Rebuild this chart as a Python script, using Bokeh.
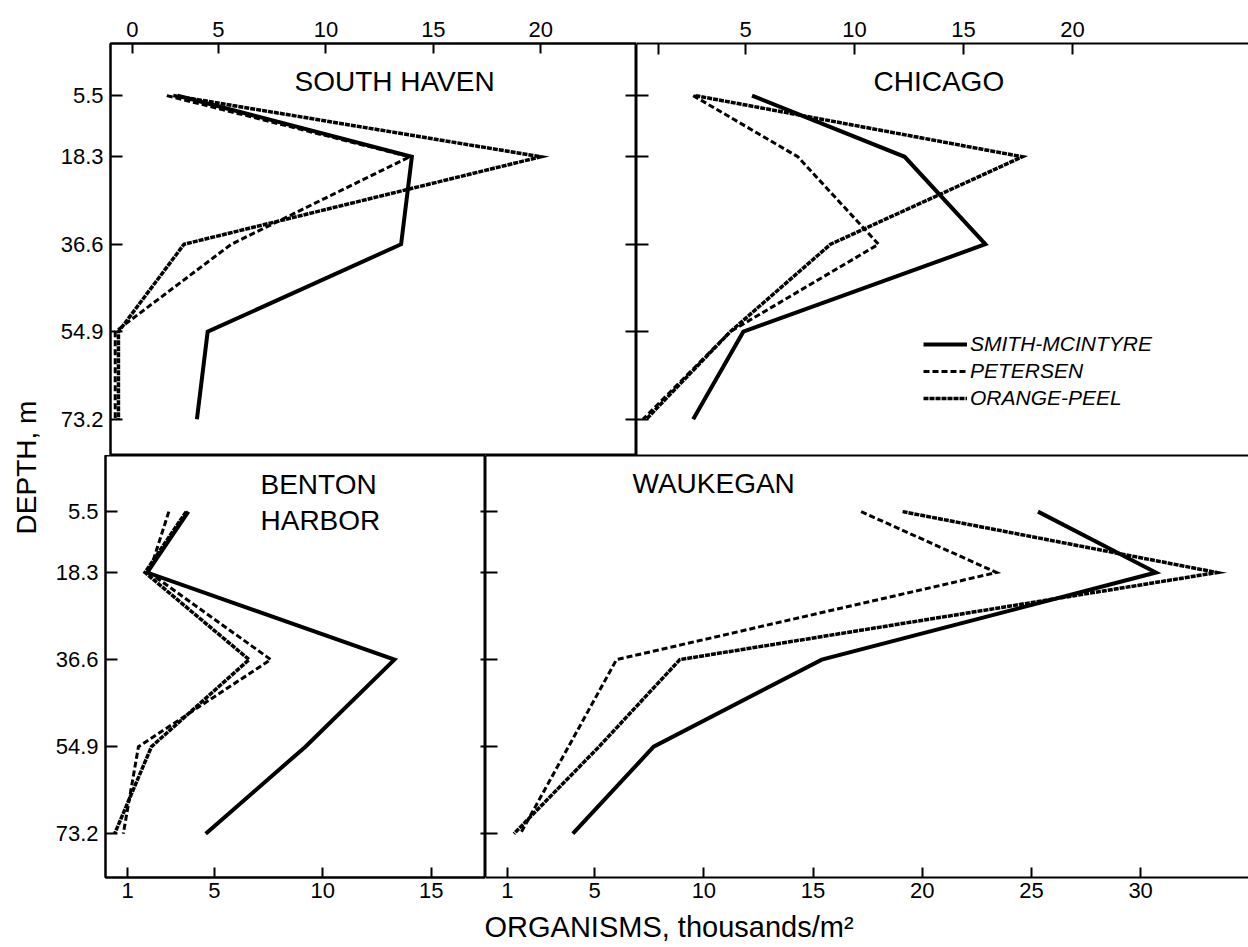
import numpy as np
from bokeh.plotting import figure
from bokeh.models import Range1d, LinearAxis, FixedTicker, Label, Legend, LegendItem
from bokeh.layouts import row, column
from bokeh.embed import file_html
from bokeh.resources import INLINE

# Sampling depths (m) shared by every station
depths = [5.5, 18.3, 36.6, 54.9, 73.2]

# Organisms, thousands per m^2, by sampler
south_haven_smith = [3.1, 14.0, 13.5, 4.5, 4.0]
south_haven_petersen = [2.6, 13.9, 5.6, 0.2, 0.2]
south_haven_orange = [2.9, 20.0, 3.4, 0.35, 0.35]

chicago_smith = [5.3, 12.3, 16.0, 4.9, 2.6]
chicago_petersen = [2.6, 7.4, 11.1, 4.3, 0.3]
chicago_orange = [2.7, 17.7, 8.9, 4.3, 0.45]

benton_smith = [3.8, 1.9, 13.3, 9.2, 4.6]
benton_petersen = [2.9, 2.0, 7.6, 1.5, 0.8]
benton_orange = [3.7, 1.8, 6.6, 2.1, 0.4]

waukegan_smith = [25.3, 30.7, 15.4, 7.7, 4.0]
waukegan_petersen = [17.2, 23.4, 6.0, 3.8, 1.6]
waukegan_orange = [19.1, 33.5, 8.9, 5.2, 1.3]

# Tick positions and labels
top_ticks = [1, 5, 10, 15, 20]
south_haven_tick_labels = {1: "0"}
chicago_tick_labels = {1: ""}
benton_ticks = [1, 5, 10, 15]
waukegan_ticks = [1, 5, 10, 15, 20, 25, 30]

FONT = "Liberation Sans"
INK = "black"

SMITH = dict(line_width=4, line_color=INK, line_join="miter")
PETERSEN = dict(line_width=3, line_color=INK, line_dash="6 3", line_join="miter")
ORANGE = dict(line_width=3.5, line_color=INK, line_dash="5 1", line_join="miter")


def panel(width, height, xr, yr, left, right, top, bottom, outline=True):
    p = figure(width=width, height=height, x_range=xr, y_range=yr,
               x_axis_type=None, y_axis_type=None,
               toolbar_location=None, output_backend="svg",
               min_border_left=left, min_border_right=right,
               min_border_top=top, min_border_bottom=bottom)
    p.background_fill_color = "white"
    p.border_fill_color = "white"
    if outline:
        p.outline_line_color = INK
        p.outline_line_width = 2
        p.outline_line_alpha = 1
    else:
        p.outline_line_color = None
    return p


def axis(ticks, tick_in, tick_out=0, labels=True, overrides=None, standoff=7):
    ax = LinearAxis(ticker=FixedTicker(ticks=ticks, minor_ticks=[]))
    ax.major_tick_in = tick_in
    ax.major_tick_out = tick_out
    ax.minor_tick_line_color = None
    ax.axis_line_color = INK
    ax.axis_line_width = 2
    ax.major_tick_line_color = INK
    ax.major_tick_line_width = 2
    ax.major_label_text_font = FONT
    ax.major_label_text_color = INK
    ax.major_label_text_font_size = "22px"
    if labels:
        ax.major_label_standoff = standoff
        if overrides:
            ax.major_label_overrides = overrides
    else:
        # tick marks only: every label is blank
        ax.major_label_standoff = 0
        ax.major_label_overrides = {t: "" for t in ticks}
    return ax


def title(p, text, x, y):
    # y is the vertical centre of the capitals, measured up from the frame bottom
    p.add_layout(Label(x=x, y=y, x_units="screen", y_units="screen", text=text,
                       text_font=FONT, text_font_size="28px", text_color=INK,
                       text_baseline="middle", text_align="left"))


def draw(p, smith, petersen, orange):
    r1 = p.line(smith, depths, **SMITH)
    r2 = p.line(petersen, depths, **PETERSEN)
    r3 = p.line(orange, depths, **ORANGE)
    return r1, r2, r3


top_depth = Range1d(80.8, -5.4)
bottom_depth = Range1d(82.4, -6.3)

# South Haven
p_sh = panel(590, 455, Range1d(-0.02, 24.45), top_depth, 64, 0, 43, 0)
p_sh.add_layout(axis(top_ticks, 10, overrides=south_haven_tick_labels), "above")
p_sh.add_layout(axis(depths, 12), "left")
p_sh.add_layout(axis(depths, 11, labels=False), "right")
draw(p_sh, south_haven_smith, south_haven_petersen, south_haven_orange)
title(p_sh, "SOUTH HAVEN", 184, 374)

# Chicago
p_ch = panel(612, 455, Range1d(0, 28.07), top_depth, 0, 0, 43, 0, outline=False)
p_ch.add_layout(axis(top_ticks, 11, overrides=chicago_tick_labels), "above")
p_ch.add_layout(axis(depths, 12, labels=False), "left")
p_ch.add_layout(axis([], 0, labels=False), "below")
rs, rp, ro = draw(p_ch, chicago_smith, chicago_petersen, chicago_orange)
title(p_ch, "CHICAGO", 237, 374)
legend = Legend(items=[LegendItem(label="SMITH-MCINTYRE", renderers=[rs]),
                       LegendItem(label="PETERSEN", renderers=[rp]),
                       LegendItem(label="ORANGE-PEEL", renderers=[ro])],
                location=(287, 45), glyph_width=44, glyph_height=20,
                label_height=20, label_standoff=3, spacing=3, padding=0, margin=0,
                border_line_color=None, background_fill_alpha=0,
                label_text_font=FONT, label_text_font_style="italic",
                label_text_font_size="21px", label_text_color=INK)
p_ch.add_layout(legend, "center")

# Benton Harbor
p_bh = panel(439, 453, Range1d(-0.02, 17.5), bottom_depth, 59, 0, 0, 31)
p_bh.add_layout(axis(benton_ticks, 10, standoff=5), "below")
p_bh.add_layout(axis(depths, 12), "left")
p_bh.add_layout(axis(depths, 5, labels=False), "right")
draw(p_bh, benton_smith, benton_petersen, benton_orange)
title(p_bh, "BENTON", 155, 393)
title(p_bh, "HARBOR", 155, 357)

# Waukegan
p_wk = panel(763, 453, Range1d(0, 34.94), bottom_depth, 0, 0, 0, 31, outline=False)
p_wk.add_layout(axis(waukegan_ticks, 10, standoff=5), "below")
p_wk.add_layout(axis(depths, 12, labels=False), "left")
p_wk.add_layout(axis([], 0, labels=False), "above")
draw(p_wk, waukegan_smith, waukegan_petersen, waukegan_orange)
title(p_wk, "WAUKEGAN", 147, 394)


def strip(width, height):
    s = figure(width=width, height=height, x_range=Range1d(0, 1), y_range=Range1d(0, 1),
               x_axis_type=None, y_axis_type=None, toolbar_location=None,
               output_backend="svg", min_border=0)
    s.outline_line_color = None
    s.background_fill_color = "white"
    s.border_fill_color = "white"
    return s


left_strip = strip(46, 947)
left_strip.add_layout(Label(x=26, y=480, x_units="screen", y_units="screen",
                            text="DEPTH, m", angle=np.pi / 2, text_align="center",
                            text_baseline="middle", text_font=FONT,
                            text_font_size="28px", text_color=INK))

bottom_strip = strip(1202, 39)
bottom_strip.add_layout(Label(x=438, y=21, x_units="screen", y_units="screen",
                              text="ORGANISMS, thousands/m\u00b2", text_align="left",
                              text_baseline="middle", text_font=FONT,
                              text_font_size="29px", text_color=INK))

layout = row(left_strip, column(row(p_sh, p_ch), row(p_bh, p_wk), bottom_strip))

with open("out.html", "w") as f:
    f.write(file_html(layout, INLINE))
